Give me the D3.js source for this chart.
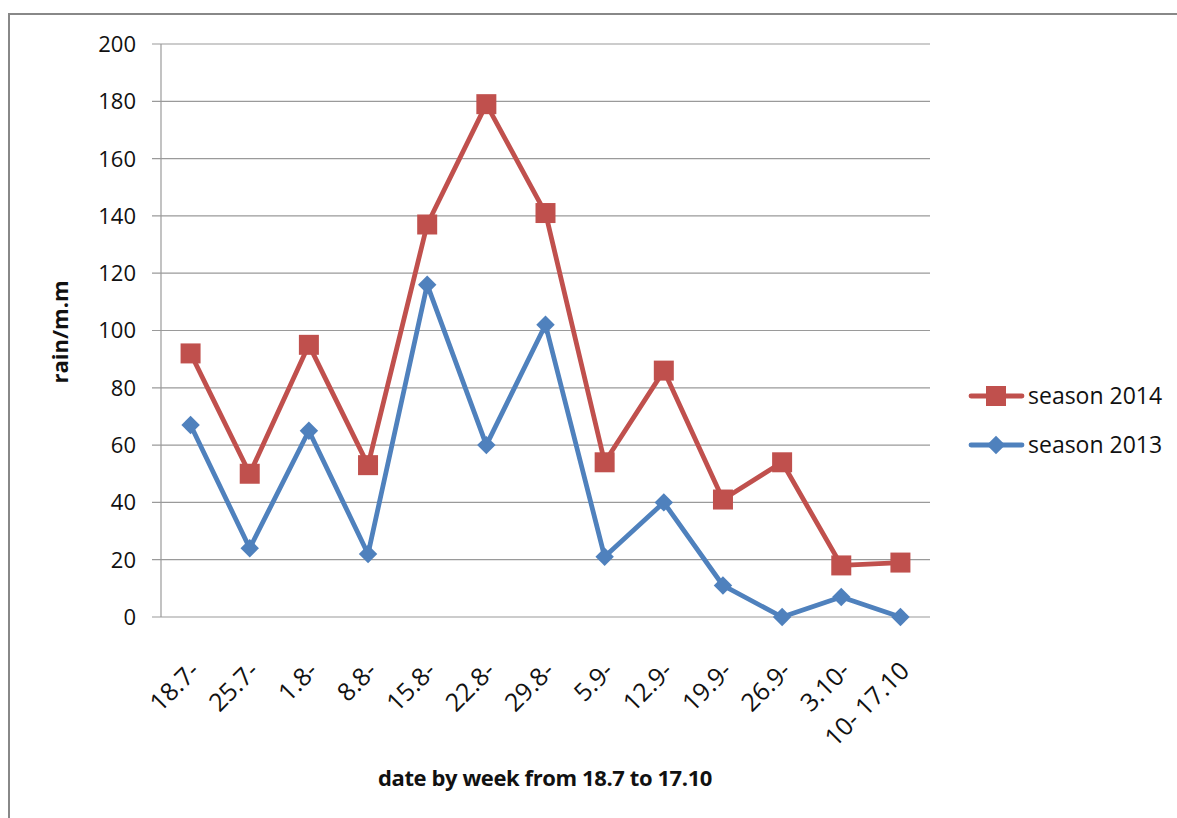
<!DOCTYPE html>
<html><head><meta charset="utf-8">
<script src="https://cdn.jsdelivr.net/npm/d3@7"></script>
<style>body{margin:0;background:#fff}svg{display:block;font-family:"Open Sans",sans-serif}</style>
</head><body><svg id="c" width="1177" height="818"></svg>
<script>
const categories = ["18.7-","25.7-","1.8-","8.8-","15.8-","22.8-","29.8-","5.9-","12.9-","19.9-","26.9-","3.10-","10- 17.10"];
const season2014 = [92,50,95,53,137,179,141,54,86,41,54,18,19];
const season2013 = [67,24,65,22,116,60,102,21,40,11,0,7,0];
const yTicks = [0,20,40,60,80,100,120,140,160,180,200];
const seriesNames = ["season 2014","season 2013"];
const colors = ["#C0504D","#4F81BD"];

const svg = d3.select("#c");
svg.append("rect").attr("x",9).attr("y",14).attr("width",1200).attr("height",900)
  .attr("fill","#fff").attr("stroke","#888").attr("stroke-width",2);

const L=161,R=930,T=44,B=617;
const x = d3.scaleBand().domain(categories).range([L,R]);
const y = d3.scaleLinear().domain([0,200]).range([B,T]);
const cx = d => x(d)+x.bandwidth()/2;

svg.append("g").selectAll("line").data(yTicks).join("line")
  .attr("x1",152).attr("x2",R).attr("y1",d=>y(d)).attr("y2",d=>y(d))
  .attr("stroke","#9a9a9a").attr("stroke-width",1.2);
svg.append("line").attr("x1",L).attr("x2",L).attr("y1",T).attr("y2",B).attr("stroke","#9a9a9a").attr("stroke-width",1.2);

svg.append("g").selectAll("text").data(yTicks).join("text")
  .attr("x",136).attr("y",d=>y(d)).attr("dy","0.36em").attr("text-anchor","end")
  .attr("font-size",22).attr("fill","#111").text(d=>d);

svg.append("g").selectAll("text").data(categories).join("text")
  .attr("transform",d=>`translate(${cx(d)+4},${666}) rotate(-45)`)
  .attr("text-anchor","end").attr("dy","0.36em").attr("font-size",25).attr("fill","#111").text(d=>d);

svg.append("text").attr("x",545).attr("y",786).attr("text-anchor","middle").attr("font-size",22)
  .attr("font-weight","bold").attr("fill","#111").attr("letter-spacing","-0.4").text("date by week from 18.7 to 17.10");
svg.append("text").attr("transform","translate(68,332) rotate(-90)").attr("text-anchor","middle")
  .attr("font-size",22).attr("font-weight","bold").attr("fill","#111").text("rain/m.m");

const line = d3.line().x((d,i)=>cx(categories[i])).y(d=>y(d));
const sq = d3.symbol().type(d3.symbolSquare).size(400)();
const dia = d3.symbol().type(d3.symbolSquare).size(170)();

[[season2013,1,dia,45],[season2014,0,sq,0]].forEach(([vals,k,sym,rot])=>{
  svg.append("path").datum(vals).attr("d",line).attr("fill","none").attr("stroke",colors[k])
    .attr("stroke-width",4.8).attr("stroke-linejoin","round");
  svg.append("g").selectAll("path").data(vals).join("path")
    .attr("transform",(d,i)=>`translate(${cx(categories[i])},${y(d)}) rotate(${rot})`)
    .attr("d",sym).attr("fill",colors[k]);
});

const leg = [[0,396,sq,0],[1,445,dia,45]];
leg.forEach(([k,ly,sym,rot])=>{
  svg.append("line").attr("x1",971).attr("x2",1022).attr("y1",ly).attr("y2",ly)
    .attr("stroke",colors[k]).attr("stroke-width",4.8).attr("stroke-linecap","round");
  svg.append("path").attr("transform",`translate(996,${ly}) rotate(${rot})`).attr("d",sym).attr("fill",colors[k]);
  svg.append("text").attr("x",1028).attr("y",ly).attr("dy","0.36em").attr("font-size",23)
    .attr("fill","#111").text(seriesNames[k]);
});
</script></body></html>
